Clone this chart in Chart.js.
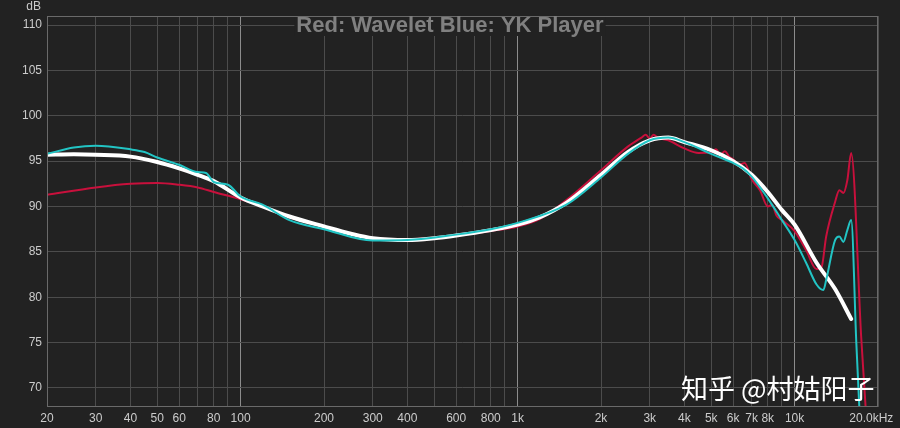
<!DOCTYPE html>
<html>
<head>
<meta charset="utf-8">
<script src="https://cdn.jsdelivr.net/npm/chart.js@4"></script>
<style>
  html, body { margin: 0; padding: 0; background: #222222; }
</style>
</head>
<body>
<canvas id="myChart" width="900" height="428"></canvas>
<script>
// grid lines on the frequency axis and the labels shown under them
var freqTicks = [20, 30, 40, 50, 60, 70, 80, 90, 100, 200, 300, 400, 500, 600, 700, 800, 900,
  1000, 2000, 3000, 4000, 5000, 6000, 7000, 8000, 9000, 10000, 20000]
var freqLabels = ["20", "30", "40", "50", "60", "", "80", "", "100", "200", "300", "400", "", "600", "", "800", "",
  "1k", "2k", "3k", "4k", "5k", "6k", "7k", "8k", "", "10k", "20.0kHz    "]
var dbTicks = [70, 75, 80, 85, 90, 95, 100, 105, 110]

// Red: Wavelet
var redFreq = [20, 30, 40, 50, 60, 70, 80, 100, 120, 150, 200, 300, 400, 600, 800, 1000, 1200, 1500, 2000, 2500,
  2800, 2900, 3000, 3100, 3200, 3500, 4000, 4500, 5000, 5200, 5400, 5600, 5800, 6000, 6300, 6600, 7000, 7500,
  8000, 8300, 8600, 9000, 10000, 11000, 12000, 12500, 13000, 14000, 14500, 15000, 15500, 16000, 17400, 18300]
var redDb = [91.3, 92.1, 92.5, 92.6, 92.4, 92.1, 91.6, 90.8, 90.0, 88.8, 87.8, 86.5, 86.4, 86.8, 87.3, 87.8, 88.6, 90.7, 94.0, 96.6,
  97.6, 97.9, 97.5, 97.9, 97.6, 97.3, 96.4, 95.9, 96.0, 96.3, 95.7, 96.1, 95.5, 95.2, 94.6, 94.8, 93.0, 91.8,
  90.0, 90.2, 89.0, 88.5, 87.3, 85.2, 83.1, 83.3, 86.7, 90.5, 91.8, 91.5, 92.9, 95.9, 75.5, 65]

// Blue: YK Player
var cyanFreq = [20, 25, 30, 40, 45, 50, 60, 70, 75, 80, 90, 100, 120, 150, 200, 300, 400, 600, 800, 1000, 1500, 2000,
  2500, 3000, 3500, 4000, 5000, 6000, 6500, 7000, 8000, 9000, 10000, 11000, 12000, 12700, 13000, 14000, 14500,
  15000, 15500, 16000, 16700, 17300]
var cyanDb = [95.8, 96.5, 96.7, 96.3, 96.0, 95.4, 94.6, 93.8, 93.7, 92.7, 92.4, 91.1, 90.2, 88.5, 87.5, 86.25, 86.3, 86.9, 87.5, 88.2, 90.2, 93.2,
  95.8, 97.3, 97.6, 97.1, 95.8, 94.8, 94.2, 93.3, 90.9, 88.5, 86.3, 83.8, 81.4, 80.8, 81.9, 86.3, 86.7,
  86.1, 87.4, 88.5, 75, 65]

// white target curve
var targetFreq = [20, 25, 30, 40, 50, 60, 70, 80, 100, 120, 150, 200, 250, 300, 400, 500, 600, 800, 1000, 1200, 1500,
  2000, 2500, 3000, 3500, 4000, 5000, 6000, 7000, 8000, 9000, 10000, 12000, 14000, 16000]
var targetDb = [95.7, 95.75, 95.7, 95.5, 94.9, 94.2, 93.5, 92.8, 91.0, 90.0, 88.9, 87.8, 87.0, 86.5, 86.3, 86.5, 86.8, 87.4, 88.0, 88.8, 90.4,
  93.5, 96.0, 97.3, 97.6, 97.1, 96.2, 95.0, 93.5, 91.6, 89.6, 88.0, 83.8, 80.9, 77.6]

function pontos(f, d) {
  var lista = []
  for (var i = 0; i < f.length; i++) {
    lista.push({ x: f[i], y: d[i] })
  }
  return lista
}

var fundo = {
  id: "fundo",
  beforeDraw: function (chart) {
    var ctx = chart.ctx
    ctx.save()
    ctx.fillStyle = "#222222"
    ctx.fillRect(0, 0, chart.width, chart.height)
    ctx.restore()
  },
  afterDraw: function (chart) {
    var ctx = chart.ctx
    var a = chart.chartArea
    ctx.save()
    ctx.strokeStyle = "#6a6a6a"
    ctx.lineWidth = 1
    ctx.strokeRect(a.left + 0.5, a.top + 0.5, a.right - a.left - 1, a.bottom - a.top - 1)

    // title with its own box over the grid
    ctx.font = "bold 22px 'Liberation Sans', Arial, sans-serif"
    var titulo = "Red: Wavelet Blue: YK Player"
    var w = ctx.measureText(titulo).width
    ctx.fillStyle = "#222222"
    ctx.fillRect(450 - w / 2 - 2, 17, w + 4, 19)
    ctx.fillStyle = "#808080"
    ctx.textAlign = "center"
    ctx.textBaseline = "middle"
    ctx.fillText(titulo, 450, 26)

    ctx.font = "12px 'Liberation Sans', Arial, sans-serif"
    ctx.fillStyle = "#cccccc"
    ctx.textAlign = "right"
    ctx.fillText("dB", 41, 7)

    ctx.font = "27px 'Noto Sans CJK SC', sans-serif"
    ctx.fillStyle = "#ffffff"
    ctx.textAlign = "left"
    ctx.fillText("知乎 @村姑阳子", 681, 389)
    ctx.restore()
  }
}

function plotarGrafico() {
  var ctx = document.getElementById("myChart")

  new Chart(ctx, {
    type: "scatter",
    data: {
      datasets: [{
        label: "YK Player",
        data: pontos(cyanFreq, cyanDb),
        borderColor: "#22c4c4",
        borderWidth: 2
      }, {
        label: "target",
        data: pontos(targetFreq, targetDb),
        borderColor: "#ffffff",
        borderWidth: 4
      }, {
        label: "Wavelet",
        data: pontos(redFreq, redDb),
        borderColor: "#c8103c",
        borderWidth: 2
      }]
    },
    options: {
      responsive: false,
      animation: false,
      showLine: true,
      layout: { padding: { top: 16, right: 22, left: 0, bottom: 0 } },
      elements: {
        point: { radius: 0, hoverRadius: 0 },
        line: { cubicInterpolationMode: "monotone", borderCapStyle: "round", borderJoinStyle: "round" }
      },
      plugins: {
        legend: { display: false },
        tooltip: { enabled: false }
      },
      scales: {
        x: {
          type: "logarithmic",
          min: 20,
          max: 20000,
          afterBuildTicks: function (scale) {
            scale.ticks = freqTicks.map(function (v) { return { value: v } })
          },
          afterFit: function (scale) {
            scale.height = 21
            scale.paddingLeft = 0
            scale.paddingRight = 0
          },
          ticks: {
            autoSkip: false,
            maxRotation: 0,
            padding: 4,
            color: "#cccccc",
            font: { family: "'Liberation Sans', Arial, sans-serif", size: 12 },
            callback: function (value, index) { return freqLabels[index] }
          },
          grid: {
            drawTicks: false,
            color: function (c) {
              var v = c.tick && c.tick.value
              if (v == 100 || v == 1000 || v == 10000) return "#8c8c8c"
              return "#4c4c4c"
            }
          },
          border: { display: false }
        },
        y: {
          min: 67.9,
          max: 111,
          afterBuildTicks: function (scale) {
            scale.ticks = dbTicks.map(function (v) { return { value: v } })
          },
          afterFit: function (scale) {
            scale.width = 47
            scale.paddingTop = 0
            scale.paddingBottom = 0
          },
          ticks: {
            padding: 5,
            color: "#cccccc",
            font: { family: "'Liberation Sans', Arial, sans-serif", size: 12 }
          },
          grid: { drawTicks: false, color: "#4c4c4c" },
          border: { display: false }
        }
      }
    },
    plugins: [fundo]
  })
}

plotarGrafico()
</script>
</body>
</html>
